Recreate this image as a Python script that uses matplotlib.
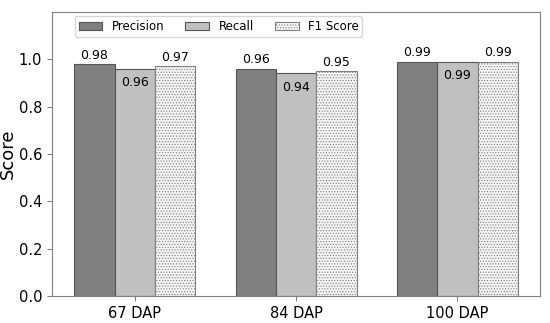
import numpy as np
import matplotlib.pyplot as plt

groups = ['67 DAP', '84 DAP', '100 DAP']
precision = [0.98, 0.96, 0.99]
recall = [0.96, 0.94, 0.99]
f1 = [0.97, 0.95, 0.99]

x = np.arange(len(groups))
w = 0.25

fig = plt.figure(figsize=(5.5, 3.23), dpi=100)
ax = fig.add_axes([0.0945, 0.0836, 0.8875, 0.8794])

plt.rcParams['hatch.color'] = '#8a8a8a'
plt.rcParams['hatch.linewidth'] = 0.5

b1 = ax.bar(x - w, precision, w, color='#808080', edgecolor='#555555', linewidth=0.8, label='Precision')
b2 = ax.bar(x, recall, w, color='#c0c0c0', edgecolor='#555555', linewidth=0.8, label='Recall')
b3 = ax.bar(x + w, f1, w, color='#f4f4f4', edgecolor='#808080', linewidth=0.8, hatch='......', label='F1 Score')

for i in range(len(groups)):
    ax.text(x[i] - w, precision[i] + 0.01, '%.2f' % precision[i], ha='center', va='bottom', fontsize=9)
    ax.text(x[i], recall[i] - 0.03, '%.2f' % recall[i], ha='center', va='top', fontsize=9)
    ax.text(x[i] + w, f1[i] + 0.01, '%.2f' % f1[i], ha='center', va='bottom', fontsize=9)

ax.set_ylim(0, 1.2)
ax.set_yticks([0.0, 0.2, 0.4, 0.6, 0.8, 1.0])
ax.set_xticks(x)
ax.set_xticklabels(groups)
ax.tick_params(labelsize=10.5, color='#808080')
ax.set_ylabel('Score', fontsize=13)
ax.yaxis.set_label_coords(-0.072, 0.5)
for s in ax.spines.values():
    s.set_color('#808080')

ax.legend(loc='upper left', bbox_to_anchor=(0.035, 1.005), ncol=3, fontsize=8.5,
          handlelength=2.0, columnspacing=1.8, borderpad=0.3, frameon=True)

plt.savefig('out.png')
